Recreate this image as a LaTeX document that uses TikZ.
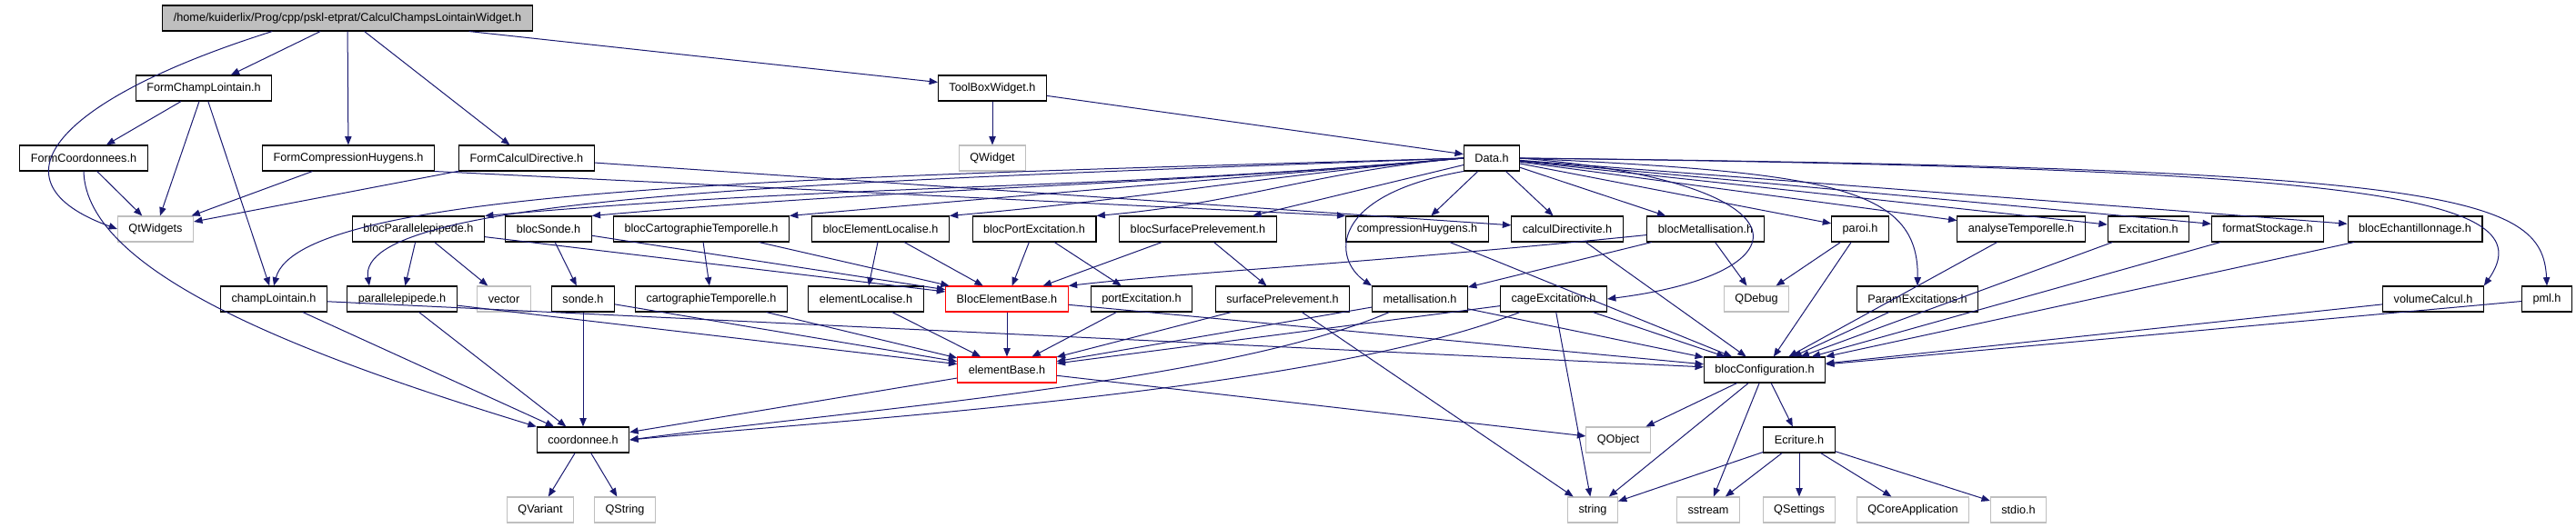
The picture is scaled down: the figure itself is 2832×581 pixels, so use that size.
\documentclass[tikz,border=0pt]{standalone}
\usepackage{fontspec}
\setmainfont{Liberation Sans}
\usetikzlibrary{arrows.meta}

\definecolor{edgeblue}{HTML}{191970}
\definecolor{extgray}{HTML}{BFBFBF}

\begin{document}
\begin{tikzpicture}[x=0.75pt, y=-0.75pt,
	every node/.style={font=\fontsize{9.5}{11}\selectfont, inner xsep=9pt, inner ysep=0pt, minimum height=21pt},
	file/.style={draw=black, line width=0.8pt, fill=white},
	extfile/.style={draw=extgray, line width=0.8pt, fill=white},
	redfile/.style={draw=red, line width=0.8pt, fill=white},
	edge/.style={draw=edgeblue, line width=0.75pt, -{Triangle[length=7pt, width=5.5pt]}}]
	\useasboundingbox (0,0) rectangle (2832,581);
	% row 0 and 1
	\node[file, fill=extgray] (root) at (382,20) {/home/kuiderlix/Prog/cpp/pskl-etprat/CalculChampsLointainWidget.h};
	\node[file] (formchamp) at (224,97) {FormChampLointain.h};
	\node[file] (toolbox) at (1091,97) {ToolBoxWidget.h};
	% row 2
	\node[file] (formcoord) at (92,174) {FormCoordonnees.h};
	\node[file] (formcomp) at (383,174) {FormCompressionHuygens.h};
	\node[file] (formcalc) at (579,174) {FormCalculDirective.h};
	\node[extfile] (qwidget) at (1091,174) {QWidget};
	\node[file] (data) at (1640,174) {Data.h};
	% row 3
	\node[extfile] (qtwidgets) at (171,252) {QtWidgets};
	\node[file] (blocpara) at (460,252) {blocParallelepipede.h};
	\node[file] (blocsonde) at (603,252) {blocSonde.h};
	\node[file] (bloccarto) at (771,252) {blocCartographieTemporelle.h};
	\node[file] (blocelemloc) at (968,252) {blocElementLocalise.h};
	\node[file] (blocport) at (1137,252) {blocPortExcitation.h};
	\node[file] (blocsurf) at (1317,252) {blocSurfacePrelevement.h};
	\node[file] (comphuy) at (1558,252) {compressionHuygens.h};
	\node[file] (calcdir) at (1723,252) {calculDirectivite.h};
	\node[file] (blocmetal) at (1875,252) {blocMetallisation.h};
	\node[file] (paroi) at (2045,252) {paroi.h};
	\node[file] (analyse) at (2222,252) {analyseTemporelle.h};
	\node[file] (excit) at (2362,252) {Excitation.h};
	\node[file] (format) at (2493,252) {formatStockage.h};
	\node[file] (blocech) at (2655,252) {blocEchantillonnage.h};
	% row 4
	\node[file] (champ) at (301,329) {champLointain.h};
	\node[file] (para) at (442,329) {parallelepipede.h};
	\node[extfile] (vector) at (554,329) {vector};
	\node[file] (sonde) at (641,329) {sonde.h};
	\node[file] (carto) at (782,329) {cartographieTemporelle.h};
	\node[file] (elemloc) at (952,329) {elementLocalise.h};
	\node[redfile] (blocelem) at (1107,329) {BlocElementBase.h};
	\node[file] (port) at (1255,329) {portExcitation.h};
	\node[file] (surf) at (1410,329) {surfacePrelevement.h};
	\node[file] (metal) at (1561,329) {metallisation.h};
	\node[file] (cage) at (1708,329) {cageExcitation.h};
	\node[extfile] (qdebug) at (1931,329) {QDebug};
	\node[file] (paramexc) at (2108,329) {ParamExcitations.h};
	\node[file] (volume) at (2675,329) {volumeCalcul.h};
	\node[file] (pml) at (2800,329) {pml.h};
	% row 5 and 6
	\node[redfile] (elembase) at (1107,407) {elementBase.h};
	\node[file] (blocconf) at (1940,407) {blocConfiguration.h};
	\node[file] (coord) at (641,484) {coordonnee.h};
	\node[extfile] (qobject) at (1779,484) {QObject};
	\node[file] (ecriture) at (1978,484) {Ecriture.h};
	% row 7
	\node[extfile] (qvariant) at (594,561) {QVariant};
	\node[extfile] (qstring) at (687,561) {QString};
	\node[extfile] (string) at (1751,561) {string};
	\node[extfile] (sstream) at (1878,561) {sstream};
	\node[extfile] (qsettings) at (1978,561) {QSettings};
	\node[extfile] (qcoreapp) at (2103,561) {QCoreApplication};
	\node[extfile] (stdio) at (2219,561) {stdio.h};

	% edges from the top
	\draw[edge] ([xshift=-62pt]root.south) .. controls (60,110) and (-15,200) .. (qtwidgets.west);
	\draw[edge] (root) -- (formchamp);
	\draw[edge] (root) -- (formcomp);
	\draw[edge] (root) -- (formcalc);
	\draw[edge] (root) -- (toolbox);
	\draw[edge] (formchamp) -- (formcoord);
	\draw[edge] (formchamp) -- (qtwidgets);
	\draw[edge] (formchamp) -- (champ);
	\draw[edge] (formcoord) -- (qtwidgets);
	\draw[edge] (formcoord.south) .. controls (95,300) and (330,390) .. (coord.north west);
	\draw[edge] (formcomp) -- (qtwidgets);
	\draw[edge] (formcomp.south east) -- (comphuy.north west);
	\draw[edge] (formcalc) -- (qtwidgets);
	\draw[edge] (formcalc) -- (calcdir);
	\draw[edge] (toolbox) -- (qwidget);
	\draw[edge] (toolbox) -- (data);
	% Data.h
	\draw[edge] (data.west) .. controls (900,195) and (330,205) .. (champ.north);
	\draw[edge] (data.west) .. controls (900,200) and (390,215) .. ([xshift=-27pt]para.north);
	\foreach \n in {blocpara, blocsonde, bloccarto, blocelemloc, blocport}
		\draw[edge] (data.west) to[out=185, in=5] (\n.north east);
	\foreach \n in {blocsurf, comphuy, calcdir, blocmetal, paroi, analyse, excit, format, blocech}
		\draw[edge] (data) -- (\n);
	\draw[edge] (data.south west) .. controls (1460,215) and (1465,285) .. (metal.north west);
	\draw[edge] (data.east) .. controls (1990,200) and (1995,300) .. (cage.east);
	\draw[edge] (data.east) .. controls (2010,190) and (2110,205) .. (paramexc.north);
	\draw[edge] (data.east) .. controls (2600,185) and (2800,215) .. (volume.north east);
	\draw[edge] (data.east) .. controls (2700,185) and (2795,215) .. (pml.north);
	% row 3
	\draw[edge] (blocpara) -- (para);
	\draw[edge] (blocpara) -- (vector);
	\draw[edge] (blocsonde) -- (sonde);
	\draw[edge] (bloccarto) -- (carto);
	\draw[edge] (blocelemloc) -- (elemloc);
	\draw[edge] (blocport) -- (port);
	\draw[edge] (blocsurf) -- (surf);
	\foreach \n in {blocpara, blocsonde, bloccarto, blocelemloc, blocport, blocsurf}
		\draw[edge] (\n) -- (blocelem);
	\draw[edge] (blocmetal) .. controls (1500,290) and (1300,300) .. (blocelem.north east);
	\draw[edge] (blocmetal) -- (metal);
	\draw[edge] (blocmetal) -- (qdebug);
	\draw[edge] (paroi) -- (qdebug);
	\foreach \n in {comphuy, calcdir, paroi, analyse, excit, format, blocech}
		\draw[edge] (\n) -- (blocconf);
	% row 4
	\foreach \n in {champ, para, sonde}
		\draw[edge] (\n) -- (coord);
	\draw[edge] (metal) .. controls (1350,420) and (950,450) .. (coord.east);
	\draw[edge] (cage) .. controls (1450,430) and (950,460) .. (coord.east);
	\foreach \n in {para, sonde, carto, elemloc, blocelem, port, surf, metal, cage}
		\draw[edge] (\n) -- (elembase);
	\foreach \n in {champ, blocelem, metal, cage, paramexc, volume, pml}
		\draw[edge] (\n) -- (blocconf);
	\draw[edge] (surf) -- (string);
	\draw[edge] (cage) -- (string);
	% lower rows
	\draw[edge] (elembase) -- (coord);
	\draw[edge] (elembase) -- (qobject);
	\draw[edge] (blocconf) -- (qobject);
	\draw[edge] (blocconf) -- (string);
	\draw[edge] (blocconf) -- (sstream);
	\draw[edge] (blocconf) -- (ecriture);
	\draw[edge] (coord) -- (qvariant);
	\draw[edge] (coord) -- (qstring);
	\foreach \n in {string, sstream, qsettings, qcoreapp, stdio}
		\draw[edge] (ecriture) -- (\n);
\end{tikzpicture}
\end{document}
